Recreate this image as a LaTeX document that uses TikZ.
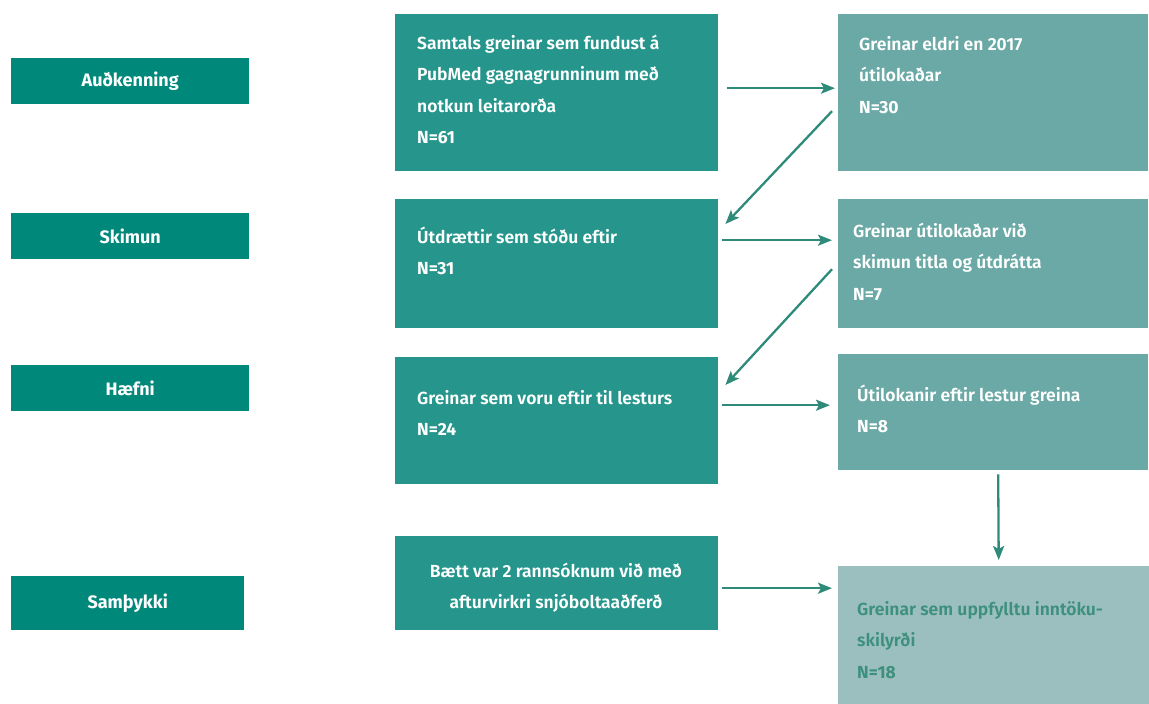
\documentclass[tikz,border=0pt]{standalone}
\usepackage{fontspec}
\setmainfont{Fira Sans}[UprightFont={* SemiBold}, BoldFont={* Bold}]
\usetikzlibrary{arrows.meta}
\definecolor{cleft}{HTML}{00897B}
\definecolor{cmid}{HTML}{26968D}
\definecolor{cright}{HTML}{6AA9A5}
\definecolor{cfinal}{HTML}{9BBFBF}
\definecolor{cfinaltext}{HTML}{3D8F7E}
\definecolor{carrow}{HTML}{2E8B7A}
\tikzset{
  leftbox/.style={fill=cleft, draw=none, anchor=north west, inner sep=0, text=white, font=\fontsize{18}{22}\bfseries},
  midbox/.style={fill=cmid, draw=none, anchor=north west, inner sep=0},
  rightbox/.style={fill=cright, draw=none, anchor=north west, inner sep=0},
  finalbox/.style={fill=cfinal, draw=none, anchor=north west, inner sep=0},
  txt/.style={anchor=north west, inner sep=0, align=left, text=white, font=\fontsize{17.5}{31.5}\selectfont},
  ctxt/.style={anchor=north, inner sep=0, align=center, text=white, font=\fontsize{17.5}{31.5}\selectfont},
  arr/.style={draw=carrow, line width=2.3pt, -{Stealth[length=14pt,width=11pt,inset=3pt]}}
}
\begin{document}
\begin{tikzpicture}[x=1pt,y=-1pt]
\useasboundingbox (0,0) rectangle (1149,704);
% left labels
\node[leftbox, minimum width=238, minimum height=46] (l1) at (11,58) {Auðkenning};
\node[leftbox, minimum width=238, minimum height=46] (l2) at (11,213) {Skimun};
\node[leftbox, minimum width=238, minimum height=46] (l3) at (11,365) {Hæfni};
\node[leftbox, minimum width=233, minimum height=54] (l4) at (11,576) {Samþykki};
% middle boxes
\node[midbox, minimum width=323, minimum height=157] (b1) at (395,14) {};
\node[midbox, minimum width=323, minimum height=129] (b2) at (395,199) {};
\node[midbox, minimum width=323, minimum height=127] (b3) at (395,357) {};
\node[midbox, minimum width=323, minimum height=94] (b4) at (395,536) {};
% right boxes
\node[rightbox, minimum width=310, minimum height=157] (r1) at (838,14) {};
\node[rightbox, minimum width=310, minimum height=129] (r2) at (838,199) {};
\node[rightbox, minimum width=310, minimum height=116] (r3) at (838,354) {};
\node[finalbox, minimum width=311, minimum height=138] (r4) at (838,566) {};
% texts
\node[txt] (t1) at (417,27) {\strut Samtals greinar sem fundust á\\\strut PubMed gagnagrunninum með\\\strut notkun leitarorða\\\strut\textbf{N=61}};
\node[txt] (t2) at (417,221) {\strut Útdrættir sem stóðu eftir\\\strut\textbf{N=31}};
\node[txt] (t3) at (417,382) {\strut Greinar sem voru eftir til lesturs\\\strut\textbf{N=24}};
\node[ctxt] (t4) at (556,555) {\strut Bætt var 2 rannsóknum við með\\\strut afturvirkri snjóboltaaðferð};
\node[txt] (s1) at (859,28) {\strut Greinar eldri en 2017\\\strut útilokaðar\\\strut\textbf{N=30}};
\node[txt] (s2) at (853,215) {\strut Greinar útilokaðar við\\\strut skimun titla og útdrátta\\\strut\textbf{N=7}};
\node[txt] (s3) at (857,379) {\strut Útilokanir eftir lestur greina\\\strut\textbf{N=8}};
\node[txt, text=cfinaltext] (s4) at (857,593) {\strut Greinar sem uppfylltu inntöku-\\\strut skilyrði\\\strut\textbf{N=18}};
% arrows
\draw[arr] ([shift={(9,-4.5)}]b1.east) -- ([shift={(-3,-4.5)}]r1.west);
\draw[arr] ([shift={(-6,18.5)}]r1.west) -- ([shift={(7,25)}]b2.north east);
\draw[arr] ([shift={(4,-23.5)}]b2.east) -- ([shift={(-6,-23.5)}]r2.west);
\draw[arr] ([shift={(-6,5.5)}]r2.west) -- ([shift={(7,28)}]b3.north east);
\draw[arr] ([shift={(4,-15.5)}]b3.east) -- ([shift={(-8,-7)}]r3.west);
\draw[arr] ([shift={(5,4)}]r3.south) -- ([shift={(5,-6)}]r4.north);
\draw[arr] ([shift={(4,5)}]b4.east) -- ([shift={(-6,-47)}]r4.west);
\end{tikzpicture}
\end{document}
